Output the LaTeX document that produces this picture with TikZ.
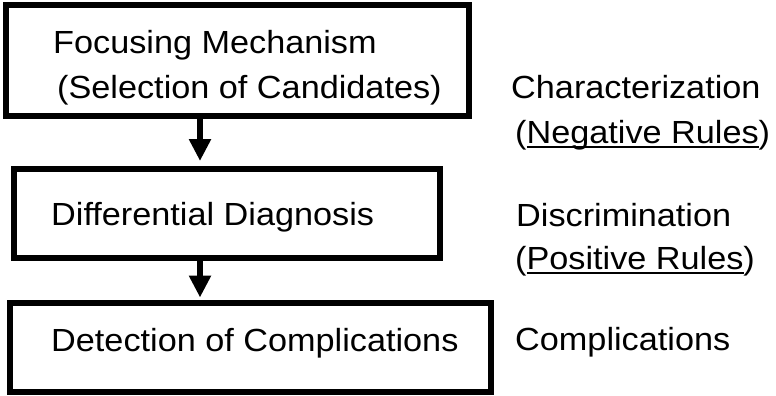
\documentclass[tikz,border=0pt]{standalone}
\usepackage{fontspec}
\setmainfont[FakeStretch=1.07]{Liberation Sans}
\usetikzlibrary{arrows.meta}
\newcommand\myul[1]{\setbox0\hbox{#1}\rlap{\rule[-4.5pt]{\wd0}{2pt}}\box0}
\begin{document}
\begin{tikzpicture}[x=1pt,y=-1pt,
  box/.style={draw=black,line width=6pt,fill=none,inner sep=0pt},
  txt/.style={anchor=base west,inner sep=0pt,font=\fontsize{32}{38}\selectfont},
  arr/.style={line width=6pt,-{Triangle[width=21pt,length=22pt]}}]
\useasboundingbox (0,0) rectangle (776,396);
% boxes
\node[box,minimum width=463pt,minimum height=110.5pt] (b1) at (237,60.25) {};
\node[box,minimum width=425.5pt,minimum height=88.5pt] (b2) at (226.75,213.25) {};
\node[box,minimum width=481pt,minimum height=89.5pt] (b3) at (250.5,347.25) {};
% box texts
\node[txt] (t1a) at (53,53) {Focusing Mechanism};
\node[txt] (t1b) at (57,98) {(Selection of Candidates)};
\node[txt] (t2) at (51,225) {Differential Diagnosis};
\node[txt] (t3) at (51,351) {Detection of Complications};
% right texts
\node[txt] (r1a) at (511,99) {Characterization};
\node[txt] (r1b) at (515,143) {(\myul{Negative Rules})};
\node[txt] (r2a) at (516,226) {Discrimination};
\node[txt] (r2b) at (515,269) {(\myul{Positive Rules})};
\node[txt] (r3) at (515,350) {Complications};
% arrows
\coordinate (ax) at (200,0);
\draw[arr,shorten <=-3pt,shorten >=5pt] (b1.south -| ax) -- (b2.north -| ax);
\draw[arr,shorten <=-3pt,shorten >=2pt] (b2.south -| ax) -- (b3.north -| ax);
\end{tikzpicture}
\end{document}
